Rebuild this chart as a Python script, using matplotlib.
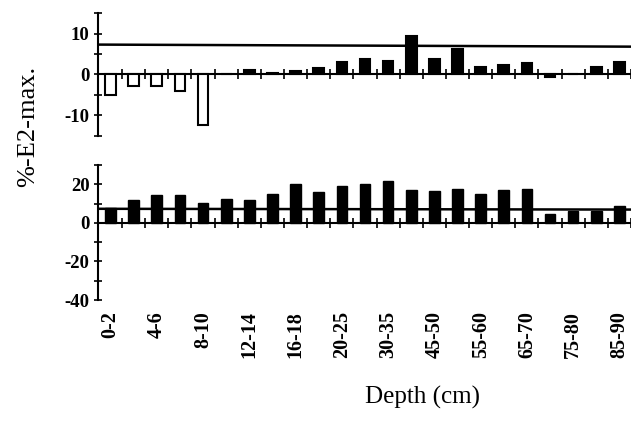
import numpy as np
import matplotlib.pyplot as plt

plt.rcParams["font.family"] = "Liberation Serif"

# depth intervals (cm), one bar each
depths = ["0-2", "2-4", "4-6", "6-8", "8-10", "10-12", "12-14", "14-16",
          "16-18", "18-20", "20-25", "25-30", "30-35", "35-45", "45-50",
          "50-55", "55-60", "60-65", "65-70", "70-75", "75-80", "80-85",
          "85-90"]

# upper panel (%-E2-max.)
top_vals = [-5.0, -2.7, -2.7, -4.0, -12.3, 0.0, 1.2, 0.3, 0.8, 1.5, 3.0,
            3.7, 3.3, 9.5, 3.7, 6.2, 1.8, 2.2, 2.9, -0.6, 0.0, 1.9, 3.0]
top_hollow = [0, 1, 2, 3, 4]          # first intervals drawn as open bars

# lower panel
bot_vals = [7.5, 11.6, 14.3, 14.4, 10.5, 12.6, 11.6, 14.8, 20.0, 16.2, 19.0,
            20.3, 21.7, 17.0, 16.4, 17.4, 15.0, 17.0, 17.6, 4.7, 6.0, 6.0, 9.0]

# reference lines (start / end of depth range)
ref_x = [-0.5, 22.5]
top_ref = [7.3, 6.8]
bot_ref = [7.3, 6.9]

x = np.arange(len(depths))

fig = plt.figure(figsize=(6.31, 4.22), dpi=100)
ax1 = fig.add_axes([0.155, 0.678, 0.845, 0.291])
ax2 = fig.add_axes([0.155, 0.289, 0.845, 0.320])

# ── shared axis styling ──────────────────────────────────────────────
for ax in (ax1, ax2):
    ax.spines["top"].set_visible(False)
    ax.spines["right"].set_visible(False)
    ax.spines["bottom"].set_position(("data", 0))
    ax.spines["bottom"].set_linewidth(1.5)
    ax.spines["left"].set_linewidth(1.5)
    ax.set_xlim(-0.55, 22.4)
    ax.set_xticks(x + 0.5)
    ax.tick_params(axis="x", direction="inout", length=7, width=1.2,
                   labelbottom=False)
    ax.tick_params(axis="y", direction="inout", length=6, width=1.2, pad=3)

# ── upper panel ──────────────────────────────────────────────────────
colors = ["white" if i in top_hollow else "black" for i in range(len(x))]
ax1.bar(x, top_vals, width=0.46, color=colors, edgecolor="black",
        linewidth=1.5, zorder=3)
ax1.plot(ref_x, top_ref, color="black", linewidth=1.8, zorder=2)
ax1.set_ylim(-15, 15)
ax1.set_yticks(range(-15, 16, 5),
               labels=["", "-10", "", "0", "", "10", ""],
               fontsize=13.5, fontweight="bold")

# ── lower panel ──────────────────────────────────────────────────────
ax2.bar(x, bot_vals, width=0.46, color="black", edgecolor="black",
        linewidth=1.0, zorder=3)
ax2.plot(ref_x, bot_ref, color="black", linewidth=1.8, zorder=2)
ax2.set_ylim(-40, 30)
ax2.set_yticks(range(-40, 31, 10),
               labels=["-40", "", "-20", "", "0", "", "20", ""],
               fontsize=13.5, fontweight="bold")

# depth labels under the lower panel
sec = ax2.secondary_xaxis(0.0)
sec.set_xticks(x[::2], labels=depths[::2], rotation=90,
               fontsize=14.5, fontweight="bold")
sec.tick_params(length=0, pad=8)
sec.spines["bottom"].set_visible(False)

fig.text(0.045, 0.70, "%-E2-max.", rotation=90, ha="center", va="center",
         fontsize=19)
fig.text(0.670, 0.057, "Depth (cm)", ha="center", va="center", fontsize=18)

fig.savefig("out.png", dpi=100)
